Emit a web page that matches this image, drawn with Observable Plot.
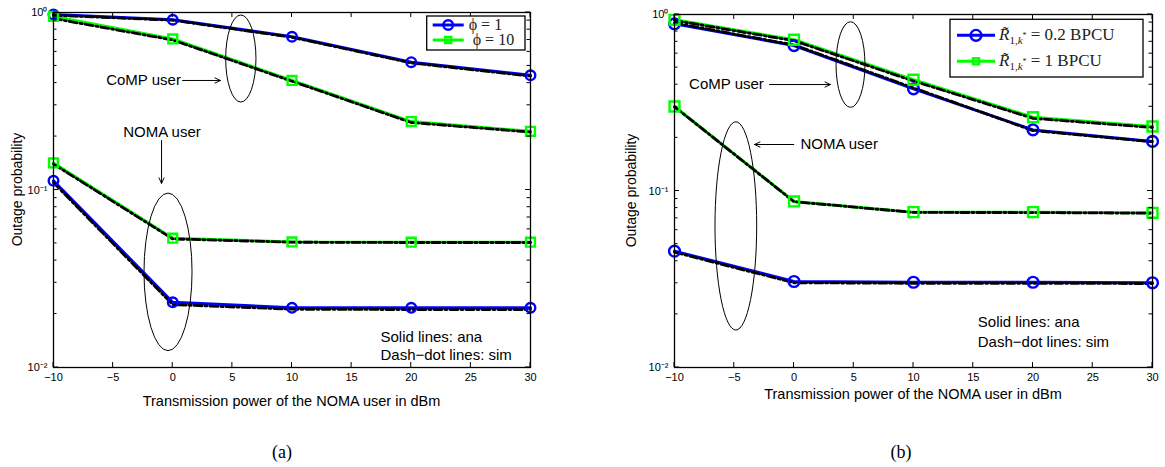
<!DOCTYPE html>
<html><head><meta charset="utf-8">
<script src="https://cdn.jsdelivr.net/npm/d3@7"></script>
<script src="https://cdn.jsdelivr.net/npm/@observablehq/plot@0.6"></script>
<style>
body{margin:0;background:#fff;width:1165px;height:467px;position:relative;overflow:hidden;font-family:"Liberation Sans",Arial,sans-serif}
.panel{position:absolute;top:0}
.cap{position:absolute;top:440px;font-family:"Liberation Serif","Times New Roman",serif;font-size:18px;line-height:24px;transform:translateX(-50%)}
</style></head><body>
<div id="pa" class="panel" style="left:0px"></div>
<div id="pb" class="panel" style="left:600px"></div>
<div class="cap" style="left:282px">(a)</div>
<div class="cap" style="left:901px">(b)</div>
<script>
// ---------- data ----------
const power = [-10, 0, 10, 20, 30];
const xTicks = [-10, -5, 0, 5, 10, 15, 20, 25, 30];
const yTicks = [0.01, 0.1, 1];
const yTickLabels = ["10\u207B\u00B2", "10\u207B\u00B9", "10\u2070"];

// panel (a)
const aCompPhi1Ana  = [0.975, 0.91, 0.73, 0.525, 0.443];
const aCompPhi1Sim  = [0.965, 0.905, 0.725, 0.52, 0.438];
const aCompPhi10Ana = [0.95, 0.71, 0.414, 0.243, 0.214];
const aCompPhi10Sim = [0.925, 0.70, 0.41, 0.24, 0.212];
const aNomaPhi10Ana = [0.142, 0.0535, 0.051, 0.0508, 0.0508];
const aNomaPhi10Sim = [0.140, 0.053, 0.0508, 0.0506, 0.0506];
const aNomaPhi1Ana  = [0.1127, 0.0233, 0.0217, 0.0217, 0.0217];
const aNomaPhi1Sim  = [0.110, 0.0226, 0.0213, 0.0212, 0.0212];

// panel (b)
const bComp02Ana = [0.885, 0.667, 0.379, 0.222, 0.191];
const bComp02Sim = [0.895, 0.672, 0.384, 0.220, 0.190];
const bComp1Ana  = [0.933, 0.719, 0.427, 0.262, 0.232];
const bComp1Sim  = [0.925, 0.710, 0.420, 0.258, 0.229];
const bNoma1Ana  = [0.301, 0.0873, 0.0759, 0.0759, 0.0752];
const bNoma1Sim  = [0.300, 0.0870, 0.0756, 0.0755, 0.0748];
const bNoma02Ana = [0.0456, 0.0307, 0.0304, 0.0304, 0.0302];
const bNoma02Sim = [0.0450, 0.0302, 0.0300, 0.0300, 0.0299];

const BLUE = "#0000ff", GREEN = "#00ff00";

// ---------- panel builder ----------
function build(cfg) {
  const rowsOf = arr => arr.map((v, i) => ({x: power[i], y: v}));
  const marks = [];
  cfg.series.forEach(s => marks.push(Plot.line(rowsOf(s.ana), {x: "x", y: "y", stroke: s.color, strokeWidth: 3})));
  cfg.series.forEach(s => marks.push(Plot.line(rowsOf(s.sim), {x: "x", y: "y", stroke: "black", strokeWidth: 2.8, strokeDasharray: "8,3,2,3"})));
  cfg.series.forEach(s => marks.push(Plot.dot(rowsOf(s.ana), {x: "x", y: "y", stroke: s.color, fill: "none", strokeWidth: 2.4, symbol: s.symbol, r: s.r})));
  marks.push(Plot.frame({stroke: "black", strokeWidth: 1.3}));
  const tfont = {fontSize: 15, fill: "black", fontFamily: "Liberation Sans, Arial, sans-serif"};
  marks.push(Plot.text(cfg.texts.filter(d => d.anchor === "middle"), {x: "x", y: "y", text: "text", textAnchor: "middle", ...tfont}));
  marks.push(Plot.text(cfg.texts.filter(d => d.anchor === "start"), {x: "x", y: "y", text: "text", textAnchor: "start", ...tfont}));
  marks.push(Plot.arrow(cfg.arrows, {x1: "x1", y1: "y1", x2: "x2", y2: "y2", stroke: "black", strokeWidth: 1, headLength: 9, headAngle: 50}));

  const plot = Plot.plot({
    width: cfg.width, height: 420,
    marginLeft: cfg.ml, marginRight: cfg.mr, marginTop: cfg.mt, marginBottom: 53,
    style: {fontFamily: "Liberation Sans, Arial, sans-serif", fontSize: "11px", background: "transparent", color: "black"},
    x: {domain: [-10, 30], ticks: xTicks, tickSize: 0, tickPadding: 6, label: null},
    y: {type: "log", domain: [0.01, 1], ticks: yTicks, tickSize: 0, tickPadding: 6, label: null,
        tickFormat: d => yTickLabels[yTicks.indexOf(d)] ?? ""},
    marks
  });

  const xs = plot.scale("x"), ys = plot.scale("y");
  const [X0, X1] = xs.range, [Y0, Y1] = ys.range;
  const svg = d3.select(plot);
  const g = svg.append("g").attr("stroke", "black").attr("stroke-width", 1).attr("fill", "none");
  xTicks.forEach(t => {
    const px = xs.apply(t);
    g.append("line").attr("x1", px).attr("x2", px).attr("y1", Y0).attr("y2", Y0 - 5);
    g.append("line").attr("x1", px).attr("x2", px).attr("y1", Y1).attr("y2", Y1 + 5);
  });
  [0.01, 0.1].forEach(dec => {
    for (let m = 1; m <= 10; m++) {
      const py = ys.apply(dec * m);
      const len = (m === 1 || m === 10) ? 5 : 3.5;
      g.append("line").attr("x1", X0).attr("x2", X0 + len).attr("y1", py).attr("y2", py);
      g.append("line").attr("x1", X1).attr("x2", X1 - len).attr("y1", py).attr("y2", py);
    }
  });
  cfg.ellipses.forEach(e => {
    const xa = xs.apply(e.x[0]), xb = xs.apply(e.x[1]);
    const ya = ys.apply(e.y[0]), yb = ys.apply(e.y[1]);
    g.append("ellipse").attr("cx", (xa + xb) / 2).attr("cy", (ya + yb) / 2)
      .attr("rx", Math.abs(xb - xa) / 2).attr("ry", Math.abs(yb - ya) / 2).attr("stroke-width", 1);
  });
  svg.append("text").attr("x", (X0 + X1) / 2).attr("y", cfg.xLabelY).attr("text-anchor", "middle")
    .attr("dominant-baseline", "middle").attr("font-size", 14.5).attr("font-family", "Liberation Sans, Arial, sans-serif").attr("fill", "black")
    .text("Transmission power of the NOMA user in dBm");
  svg.append("text").attr("transform", `translate(${cfg.yLabelX},${(Y0 + Y1) / 2}) rotate(-90)`).attr("text-anchor", "middle")
    .attr("dominant-baseline", "middle").attr("font-size", 14).attr("font-family", "Liberation Sans, Arial, sans-serif").attr("fill", "black")
    .text("Outage probability");

  const L = cfg.legend;
  const lg = svg.append("g");
  lg.append("rect").attr("x", L.x).attr("y", L.y).attr("width", L.w).attr("height", L.h)
    .attr("fill", "white").attr("stroke", "black").attr("stroke-width", 1.3);
  L.items.forEach((it, i) => {
    const yy = L.y + L.rowY[i];
    lg.append("line").attr("x1", L.x + L.lx0).attr("x2", L.x + L.lx1).attr("y1", yy).attr("y2", yy)
      .attr("stroke", it.color).attr("stroke-width", 3);
    const cx = L.x + (L.lx0 + L.lx1) / 2;
    if (it.symbol === "circle") {
      lg.append("circle").attr("cx", cx).attr("cy", yy).attr("r", it.r).attr("fill", "none").attr("stroke", it.color).attr("stroke-width", 2.4);
    } else {
      const s = it.r * 1.77;
      lg.append("rect").attr("x", cx - s / 2).attr("y", yy - s / 2).attr("width", s).attr("height", s).attr("fill", "none").attr("stroke", it.color).attr("stroke-width", 2.4);
    }
    const t = lg.append("text").attr("x", L.x + L.tx + (it.dx || 0)).attr("y", yy + 5).attr("text-anchor", "start")
      .attr("font-family", "Liberation Serif, Times New Roman, serif").attr("font-size", 17).attr("fill", "#222");
    it.label(t);
  });

  document.getElementById(cfg.el).append(plot);
}

const phiLabel = v => t => {
  t.attr("font-size", 16).text("\u03D5 = " + v);
};
const rLabel = v => t => {
  t.append("tspan").attr("font-style", "italic").text("R\u0303");
  t.append("tspan").attr("font-size", 11).attr("dy", 4).text("1,");
  t.append("tspan").attr("font-size", 11).attr("font-style", "italic").text("k");
  t.append("tspan").attr("font-size", 8).attr("dy", -6).text("*");
  t.append("tspan").attr("dy", 2).text(" = " + v + " BPCU");
};

build({
  el: "pa", width: 560, ml: 53, mr: 30, mt: 12, xLabelY: 402, yLabelX: 18,
  series: [
    {ana: aCompPhi1Ana, sim: aCompPhi1Sim, color: BLUE, symbol: "circle", r: 4.8},
    {ana: aCompPhi10Ana, sim: aCompPhi10Sim, color: GREEN, symbol: "square", r: 5},
    {ana: aNomaPhi10Ana, sim: aNomaPhi10Sim, color: GREEN, symbol: "square", r: 5},
    {ana: aNomaPhi1Ana, sim: aNomaPhi1Sim, color: BLUE, symbol: "circle", r: 4.8}
  ],
  texts: [
    {x: -2.45, y: 0.414, text: "CoMP user", anchor: "middle"},
    {x: -0.9, y: 0.211, text: "NOMA user", anchor: "middle"},
    {x: 17.42, y: 0.01482, text: "Solid lines: ana", anchor: "start"},
    {x: 17.42, y: 0.01169, text: "Dash\u2212dot lines: sim", anchor: "start"}
  ],
  arrows: [
    {x1: 0.82, y1: 0.414, x2: 4.0, y2: 0.414},
    {x1: -0.94, y1: 0.190, x2: -0.94, y2: 0.109}
  ],
  ellipses: [
    {x: [4.48, 7.02], y: [0.311, 0.962]},
    {x: [-2.37, 1.66], y: [0.01236, 0.0955]}
  ],
  legend: {x: 426.7, y: 16, w: 98.3, h: 34, rowY: [9, 24], lx0: 6, lx1: 37, tx: 42,
    items: [
      {color: BLUE, symbol: "circle", r: 4.8, label: phiLabel(1)},
      {color: GREEN, symbol: "square", r: 3.4, label: phiLabel(10), dx: 4}
    ]}
});

build({
  el: "pb", width: 565, ml: 74, mr: 13, mt: 14, xLabelY: 395, yLabelX: 32,
  series: [
    {ana: bComp02Ana, sim: bComp02Sim, color: BLUE, symbol: "circle", r: 5.4},
    {ana: bComp1Ana, sim: bComp1Sim, color: GREEN, symbol: "square", r: 5.6},
    {ana: bNoma1Ana, sim: bNoma1Sim, color: GREEN, symbol: "square", r: 5.6},
    {ana: bNoma02Ana, sim: bNoma02Sim, color: BLUE, symbol: "circle", r: 5.4}
  ],
  texts: [
    {x: -5.65, y: 0.401, text: "CoMP user", anchor: "middle"},
    {x: 3.78, y: 0.1834, text: "NOMA user", anchor: "middle"},
    {x: 15.38, y: 0.0181, text: "Solid lines: ana", anchor: "start"},
    {x: 15.38, y: 0.0139, text: "Dash\u2212dot lines: sim", anchor: "start"}
  ],
  arrows: [
    {x1: -2.05, y1: 0.401, x2: 3.05, y2: 0.401},
    {x1: -0.02, y1: 0.1834, x2: -3.3, y2: 0.1834}
  ],
  ellipses: [
    {x: [3.56, 5.98], y: [0.296, 0.904]},
    {x: [-6.57, -3.08], y: [0.0162, 0.245]}
  ],
  legend: {x: 350, y: 19.3, w: 193, h: 57.7, rowY: [16, 42], lx0: 7, lx1: 45, tx: 49,
    items: [
      {color: BLUE, symbol: "circle", r: 5.4, label: rLabel("0.2")},
      {color: GREEN, symbol: "square", r: 3.4, label: rLabel("1")}
    ]}
});
</script>
</body></html>
